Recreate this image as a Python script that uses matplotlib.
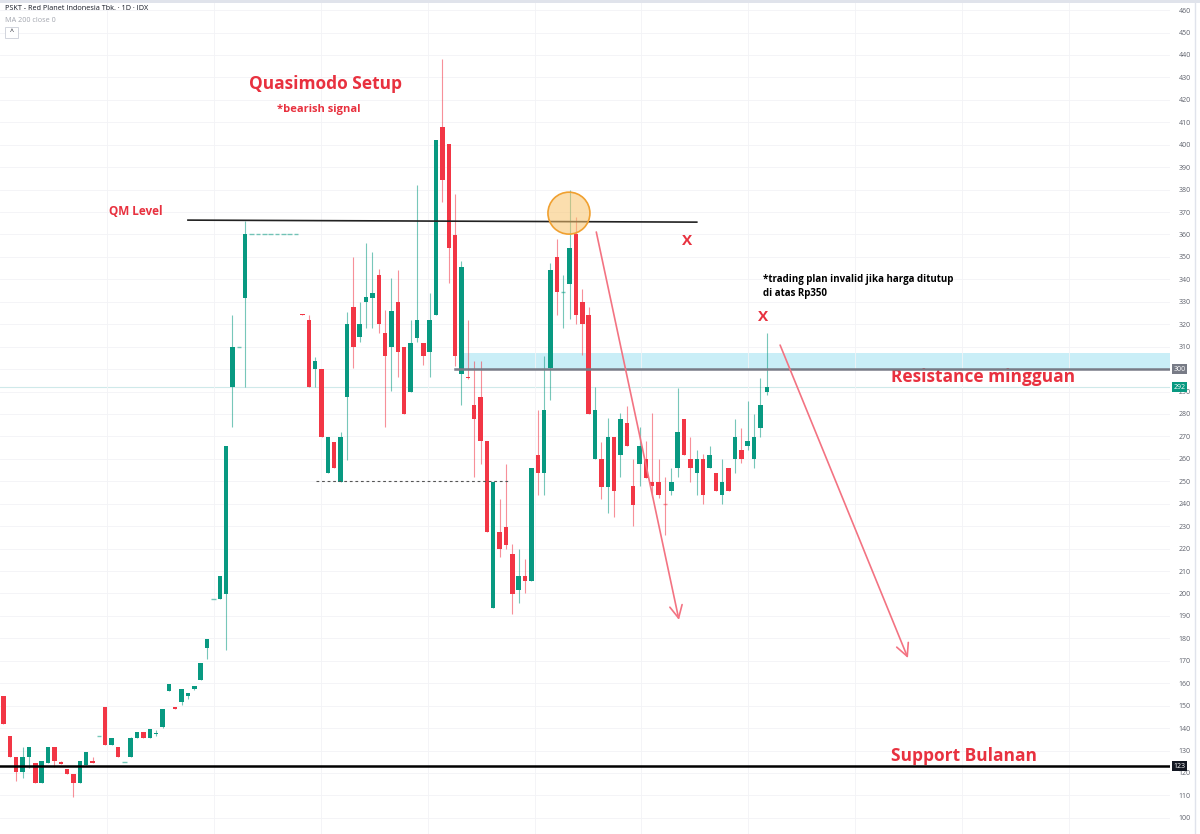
import numpy as np
import matplotlib
matplotlib.use('Agg')
import matplotlib.pyplot as plt
from matplotlib.patches import Ellipse, Rectangle
from matplotlib.transforms import blended_transform_factory

plt.rcParams['font.family'] = ['Open Sans', 'DejaVu Sans']

# 日K数据 (PSKT, 1D)
opens = [154.5, 136.6, 127.3, 120.5, 127.3, 124.6, 115.4, 124.6, 131.4, 125.0,
         121.9, 119.4, 115.4, 123.6, 125.4, 136.6, 149.6, 132.5, 131.4, 124.8,
         127.3, 135.5, 138.4, 135.5, 137.5, 140.7, 156.5, 149.6, 151.5, 154.5,
         157.4, 161.4, 175.6, 197.5, 197.5, 199.8, 291.9, 310.0, 331.8, 360.0,
         360.0, 360.0, 360.0, 360.0, 360.0, 360.0, 360.0, 324.5, 321.9, 299.9,
         299.9, 253.6, 267.7, 249.5, 287.7, 327.8, 314.1, 330.0, 331.8, 341.9,
         315.9, 309.7, 330.0, 310.0, 289.9, 314.0, 311.8, 307.8, 324.1, 407.9,
         400.1, 359.8, 297.6, 296.5, 283.9, 287.7, 267.8, 193.7, 227.5, 229.5,
         217.5, 201.5, 207.8, 205.6, 261.7, 253.7, 300.4, 349.9, 334.2, 338.0,
         360.2, 330.1, 324.0, 259.8, 259.8, 247.6, 269.9, 261.7, 275.8, 247.9,
         257.7, 259.9, 249.6, 249.6, 239.9, 245.8, 255.7, 277.7, 259.8, 253.6,
         259.8, 255.7, 253.8, 243.9, 255.7, 259.8, 263.9, 265.9, 259.8, 273.9,
         290.0]
closes = [141.7, 127.3, 120.6, 127.3, 131.4, 115.4, 125.4, 131.4, 125.4, 124.0,
          119.4, 115.4, 125.4, 129.2, 124.6, 136.6, 132.5, 135.5, 127.3, 124.8,
          135.5, 138.4, 135.5, 139.5, 138.0, 148.5, 159.7, 148.5, 157.4, 155.5,
          158.6, 168.9, 179.6, 197.5, 207.8, 265.9, 310.0, 310.0, 360.0, 360.0,
          360.0, 360.0, 360.0, 360.0, 360.0, 360.0, 360.0, 324.0, 291.9, 303.7,
          269.9, 269.9, 255.8, 269.9, 319.9, 309.7, 319.9, 332.0, 334.0, 319.9,
          305.8, 325.9, 307.8, 280.0, 311.8, 321.9, 305.8, 321.9, 402.1, 384.2,
          354.0, 305.7, 345.7, 296.0, 277.8, 267.8, 227.5, 249.6, 219.6, 221.8,
          199.8, 207.8, 205.6, 255.9, 253.7, 281.9, 344.1, 334.2, 334.2, 354.0,
          324.0, 320.2, 279.8, 281.8, 247.6, 269.9, 245.7, 277.7, 265.7, 239.4,
          265.9, 251.3, 247.9, 243.9, 239.7, 249.6, 271.8, 261.7, 255.7, 259.8,
          243.9, 261.7, 245.8, 249.8, 245.8, 269.9, 259.8, 267.9, 269.9, 283.8,
          292.0]
highs = [154.5, 136.6, 127.3, 131.4, 131.4, 124.6, 125.4, 131.4, 131.4, 125.4,
         121.9, 119.4, 125.4, 129.2, 127.3, 136.6, 149.6, 135.5, 131.4, 124.8,
         136.0, 138.4, 138.4, 139.5, 139.0, 148.5, 159.7, 149.6, 157.4, 155.5,
         158.6, 168.9, 179.6, 197.5, 207.8, 265.9, 324.1, 310.0, 366.1, 360.0,
         360.0, 360.0, 360.0, 360.0, 360.0, 360.0, 360.0, 324.5, 324.1, 305.5,
         299.9, 269.9, 267.7, 272.1, 325.6, 350.1, 330.0, 356.0, 352.3, 344.4,
         326.3, 340.4, 344.1, 310.0, 321.9, 382.0, 311.8, 333.8, 402.1, 438.1,
         400.1, 377.9, 348.2, 321.8, 303.7, 303.7, 267.8, 249.6, 241.9, 257.9,
         222.0, 219.6, 215.5, 255.9, 281.9, 305.7, 347.4, 358.1, 341.9, 379.9,
         368.0, 335.9, 327.6, 292.1, 267.6, 278.1, 269.9, 280.3, 283.7, 259.8,
         274.3, 267.9, 280.3, 259.8, 251.7, 255.7, 291.4, 277.7, 269.9, 263.9,
         262.0, 265.9, 253.8, 259.8, 255.7, 277.7, 273.6, 285.9, 280.0, 295.9,
         316.0]
lows = [141.7, 127.3, 116.2, 117.6, 122.1, 115.4, 115.4, 124.6, 122.5, 124.0,
        119.4, 109.5, 115.4, 123.6, 124.6, 136.6, 132.5, 132.5, 127.3, 124.8,
        127.3, 135.5, 135.5, 135.5, 136.5, 140.0, 156.5, 148.5, 150.5, 153.0,
        157.0, 161.4, 170.8, 197.5, 197.5, 174.8, 274.3, 310.0, 291.9, 360.0,
        360.0, 360.0, 360.0, 360.0, 360.0, 360.0, 360.0, 324.0, 291.9, 292.2,
        269.9, 253.6, 255.8, 249.5, 259.5, 300.3, 312.2, 318.2, 318.2, 315.9,
        274.3, 290.2, 296.6, 280.0, 289.9, 312.2, 301.8, 296.6, 324.1, 374.6,
        338.3, 301.2, 283.9, 295.5, 251.8, 257.9, 227.5, 193.7, 216.3, 219.6,
        190.8, 195.7, 200.2, 205.6, 244.0, 244.0, 286.4, 324.3, 318.5, 322.2,
        320.2, 306.2, 279.8, 259.8, 241.9, 235.7, 233.9, 252.0, 265.7, 230.1,
        247.9, 251.3, 243.0, 242.4, 226.0, 243.9, 251.7, 261.7, 249.8, 243.9,
        239.9, 255.7, 245.8, 239.9, 245.8, 253.8, 258.0, 264.0, 255.7, 269.9,
        288.4]

price_ticks = list(range(100, 461, 10))
qm_level = [366.4, 365.5]
qm_span = [29.0, 109.0]
resistance_zone = [300, 307]
resistance_start = 71.8
resistance_line_start = 71.0
last_price = 292
support_level = 123
low_250 = 250
low_250_span = [49.1, 79.6]

GREEN = '#089981'
RED = '#f23645'
TEXT_RED = '#e8313f'
ARROW = '#f37382'


def draw_candles(ax):
    """绘制 K 线"""
    x = np.arange(len(opens))
    o = np.array(opens)
    c = np.array(closes)
    h = np.array(highs)
    l = np.array(lows)
    colors = np.where(c >= o, GREEN, RED)

    ax.vlines(x, l, h, colors=colors, lw=0.8, alpha=0.55, zorder=3)
    body = np.abs(c - o)
    solid = body > 0.3
    ax.bar(x[solid], body[solid], bottom=np.minimum(o, c)[solid], width=0.7,
           color=colors[solid], edgecolor='none', zorder=4)
    # 十字星 / 停牌日
    doji = ~solid
    ax.hlines(c[doji], x[doji] - 0.35, x[doji] + 0.35, colors=colors[doji],
              lw=1.0, alpha=0.55, zorder=4)


def draw_annotations(ax):
    """绘制分析线与文字"""
    xmax = ax.get_xlim()[1]

    # 阻力区与支撑线
    ax.fill_between([resistance_start, xmax], resistance_zone[0], resistance_zone[1],
                    color='#c9eef7', lw=0, zorder=1)
    ax.plot([resistance_line_start, xmax], [resistance_zone[0]] * 2,
            color='#787b86', lw=1.8, zorder=5)
    ax.axhline(last_price, color='#cfe9ea', lw=0.8, zorder=1)
    ax.axhline(support_level, color='black', lw=1.8, zorder=5)
    ax.plot(qm_span, qm_level, color='#222222', lw=1.2, zorder=5)
    ax.plot(low_250_span, [low_250] * 2, color='#555555', lw=0.8,
            ls=(0, (2.5, 2.5)), zorder=5)

    # 圆圈
    ax.add_patch(Ellipse((88.9, 369.5), 6.6, 18.7, facecolor='#f8c36c',
                         alpha=0.55, edgecolor='none', zorder=6))
    ax.add_patch(Ellipse((88.9, 369.5), 6.6, 18.7, facecolor='none',
                         edgecolor='#f0a030', lw=1.2, zorder=6))

    # 箭头
    arrow_style = dict(arrowstyle='->,head_length=0.9,head_width=0.45',
                       color=ARROW, lw=1.2, shrinkA=0, shrinkB=0)
    ax.annotate('', xy=(106.2, 188.2), xytext=(93.2, 361.1), arrowprops=arrow_style, zorder=7)
    ax.annotate('', xy=(142.2, 171.2), xytext=(122.1, 310.7), arrowprops=arrow_style, zorder=7)

    ax.text(50.6, 427.0, 'Quasimodo Setup', color=TEXT_RED, fontsize=12.5,
            fontweight='bold', ha='center', va='center')
    ax.text(49.5, 415.9, '*bearish signal', color=TEXT_RED, fontsize=8,
            fontweight='bold', ha='center', va='center')
    ax.text(20.8, 370.4, 'QM Level', color=TEXT_RED, fontsize=8.5,
            fontweight='bold', ha='center', va='center')
    ax.text(107.5, 357.1, 'X', color=TEXT_RED, fontsize=11,
            fontweight='bold', ha='center', va='center')
    ax.text(119.4, 323.2, 'X', color=TEXT_RED, fontsize=11,
            fontweight='bold', ha='center', va='center')
    ax.text(119.4, 342.5, '*trading plan invalid jika harga ditutup\ndi atas Rp350',
            color='black', fontsize=7, fontweight='bold', ha='left', va='top',
            linespacing=1.45)
    ax.text(139.5, 296.5, 'Resistance mingguan', color=TEXT_RED, fontsize=12.5,
            fontweight='bold', ha='left', va='center')
    ax.text(139.5, 127.6, 'Support Bulanan', color=TEXT_RED, fontsize=12.5,
            fontweight='bold', ha='left', va='center')

    # 右侧价格标签
    trans = blended_transform_factory(ax.transAxes, ax.transData)
    for price, face in [(resistance_zone[0], '#787b86'), (last_price, GREEN),
                        (support_level, '#131722')]:
        ax.text(1.003, price, str(price), transform=trans, color='white',
                fontsize=5, ha='left', va='center', clip_on=False, zorder=10,
                bbox=dict(boxstyle='square,pad=0.25', fc=face, ec='none'))


def main():
    fig = plt.figure(figsize=(12, 8.34), dpi=100)
    ax = fig.add_axes([0, 0, 1170 / 1200, 1])
    ax.set_xlim(-0.55, 183.4)
    ax.set_ylim(92.8, 464.5)

    # 被价格标签覆盖的刻度不显示文字
    ax.set_yticks(price_ticks)
    ax.set_yticklabels(['' if t == resistance_zone[0] else str(t) for t in price_ticks])
    ax.set_xticks(np.arange(16.3, 184, 16.8))
    ax.yaxis.tick_right()
    ax.tick_params(axis='y', length=0, pad=6, labelsize=5, labelcolor='#5d606b')
    ax.tick_params(axis='x', length=0, labelbottom=False)
    ax.grid(True, color='#f2f3f6', lw=0.6, zorder=0)
    for side in ['top', 'bottom', 'left', 'right']:
        ax.spines[side].set_visible(False)

    draw_candles(ax)
    draw_annotations(ax)

    # 顶部信息
    fig.add_artist(Rectangle((0, 1 - 3 / 834), 1, 3 / 834, transform=fig.transFigure,
                             color='#e0e3eb', lw=0))
    fig.add_artist(plt.Line2D([1195 / 1200] * 2, [0, 1], transform=fig.transFigure,
                              color='#e0e3eb', lw=1))
    fig.text(5 / 1200, 1 - 9 / 834, 'PSKT - Red Planet Indonesia Tbk. · 1D · IDX',
             fontsize=5.2, color='#131722', ha='left', va='center')
    fig.text(5 / 1200, 1 - 20 / 834, 'MA 200 close 0', fontsize=5.2,
             color='#a3a6af', ha='left', va='center')
    fig.add_artist(Rectangle((5 / 1200, 1 - 38 / 834), 13 / 1200, 11 / 834,
                             transform=fig.transFigure, fc='white', ec='#d1d4dc', lw=0.7))
    fig.text(11.5 / 1200, 1 - 32 / 834, '^', fontsize=5, color='#131722',
             ha='center', va='center')

    fig.savefig('out.png', dpi=100)
    plt.close(fig)


if __name__ == "__main__":
    main()
